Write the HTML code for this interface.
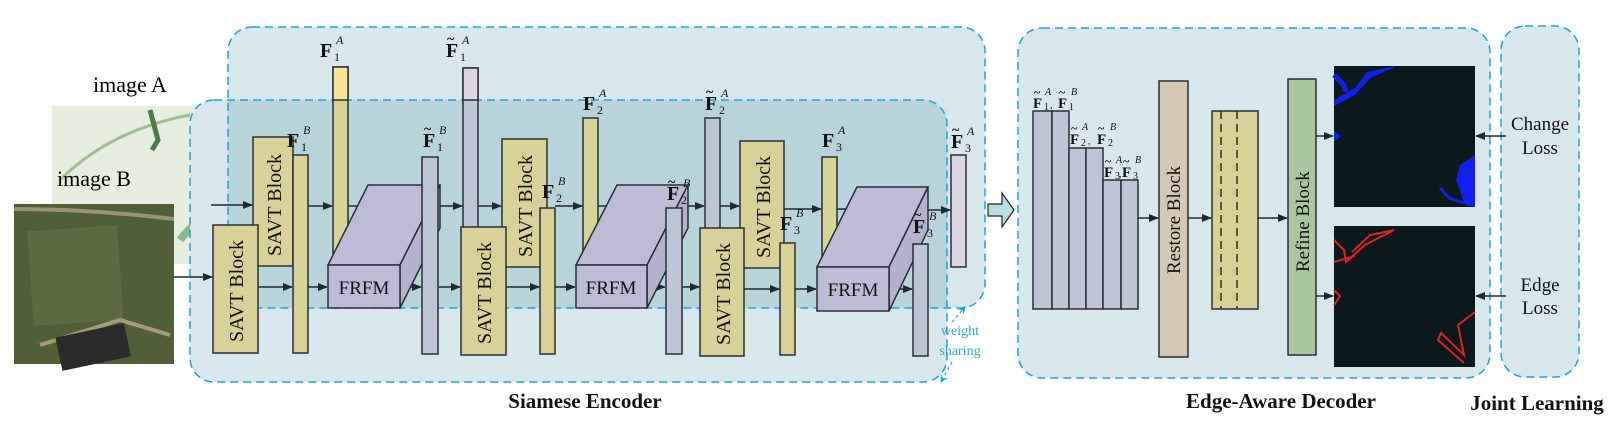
<!DOCTYPE html>
<html><head><meta charset="utf-8"><style>
html,body{margin:0;padding:0;background:#fff;}
svg{display:block;font-family:"Liberation Serif",serif;}
</style></head><body>
<svg width="1623" height="439" viewBox="0 0 1623 439" xmlns="http://www.w3.org/2000/svg">
<defs>
<marker id="ar" markerWidth="10" markerHeight="8" refX="9" refY="4" orient="auto" markerUnits="userSpaceOnUse">
<path d="M0,0 L10,4 L0,8 Z" fill="#1e2a30"/></marker>
<marker id="arb" markerWidth="8" markerHeight="8" refX="7" refY="4" orient="auto" markerUnits="userSpaceOnUse">
<path d="M0,0 L8,4 L0,8 L3,4 Z" fill="#1aa3e0"/></marker>
<clipPath id="cA"><rect x="228" y="27" width="757" height="281" rx="24"/></clipPath>
</defs>

<!-- image A -->
<rect x="52" y="106" width="159" height="158" fill="#e6eee0"/>
<path d="M60,180 Q110,130 190,115" stroke="#9fbf90" stroke-width="3" fill="none"/>
<path d="M150,110 l8,30 l-6,10" stroke="#4d7a4a" stroke-width="5" fill="none"/>
<path d="M180,240 q15,-20 30,-20" stroke="#8fb88a" stroke-width="8" fill="none"/>

<!-- encoder boxes -->
<rect x="190" y="100" width="757" height="282" rx="24" fill="#d8e7ec"/>
<rect x="228" y="27" width="757" height="281" rx="24" fill="#d8e7ec"/>
<rect x="190" y="100" width="757" height="282" rx="24" fill="#b7d4da" clip-path="url(#cA)"/>
<rect x="228" y="27" width="757" height="281" rx="24" fill="none" stroke="#1aa3e0" stroke-width="1.5" stroke-dasharray="8,5"/>
<rect x="190" y="100" width="757" height="282" rx="24" fill="none" stroke="#1aa3e0" stroke-width="1.5" stroke-dasharray="8,5"/>

<!-- image B -->
<rect x="14" y="204" width="160" height="160" fill="#4f5f36"/>
<rect x="30" y="228" width="90" height="95" fill="#5d6c3e" transform="rotate(-4 75 270)"/>
<path d="M40,345 L120,320 L170,335" stroke="#a79a78" stroke-width="4" fill="none"/>
<rect x="58" y="330" width="70" height="34" fill="#2a2c2c" transform="rotate(-12 93 346)"/>
<path d="M14,209 Q90,209 174,219" stroke="#9c9272" stroke-width="4" fill="none"/>

<text x="93" y="92" font-size="22">image A</text>
<text x="57" y="186" font-size="22">image B</text>

<g stroke="#1e2a30" stroke-width="1.5" fill="none" marker-end="url(#ar)">
<line x1="211" y1="205" x2="252" y2="205"/>
<line x1="174" y1="277" x2="212" y2="277"/>
<line x1="258" y1="287" x2="292" y2="287"/>
<line x1="308" y1="206" x2="332" y2="206"/>
<line x1="308" y1="287" x2="327" y2="287"/>
<line x1="400" y1="287" x2="421" y2="287"/>
<line x1="440" y1="206" x2="462" y2="206"/>
<line x1="438" y1="287" x2="460" y2="287"/>
<line x1="478" y1="206" x2="501" y2="206"/>
<line x1="506" y1="287" x2="539" y2="287"/>
<line x1="555" y1="206" x2="582" y2="206"/>
<line x1="555" y1="287" x2="575" y2="287"/>
<line x1="647" y1="287" x2="665" y2="287"/>
<line x1="687" y1="206" x2="704" y2="206"/>
<line x1="682" y1="287" x2="699" y2="287"/>
<line x1="720" y1="206" x2="739" y2="206"/>
<line x1="744" y1="289" x2="779" y2="289"/>
<line x1="784" y1="209" x2="821" y2="209"/>
<line x1="795" y1="289" x2="816" y2="289"/>
<line x1="889" y1="289" x2="912" y2="289"/>
<line x1="928" y1="210" x2="950" y2="210"/>
</g>
<g stroke="#1e2a30" stroke-width="1.5">
<line x1="348" y1="206" x2="440" y2="206"/>
<line x1="598" y1="206" x2="687" y2="206"/>
<line x1="837" y1="209" x2="928" y2="209"/>
</g>

<g stroke="#2a2f33" stroke-width="1.5">
<rect x="333" y="67" width="15" height="190" fill="#d8d298"/>
<rect x="333" y="67" width="15" height="33" fill="#fde39a"/>
<rect x="463" y="68" width="15" height="162" fill="#bcc4d6"/>
<rect x="463" y="68" width="15" height="32" fill="#ddd6e6"/>
<rect x="253" y="137" width="40" height="129" fill="#d8d298"/>
<rect x="213" y="225" width="45" height="128" fill="#d8d298"/>
<rect x="293" y="155" width="15" height="198" fill="#d8d298"/>
<polygon points="328,265 368,185 440,185 400,265" fill="#bdbbd6"/>
<polygon points="400,265 440,185 440,228 400,308" fill="#b3b1cd"/>
<rect x="328" y="265" width="72" height="43" fill="#bdbbd6"/>
<rect x="422" y="157" width="16" height="197" fill="#bcc4d6"/>
<rect x="583" y="118" width="15" height="140" fill="#d8d298"/>
<rect x="705" y="118" width="15" height="112" fill="#bcc4d6"/>
<rect x="502" y="139" width="45" height="128" fill="#d8d298"/>
<rect x="461" y="227" width="45" height="128" fill="#d8d298"/>
<rect x="540" y="208" width="15" height="146" fill="#d8d298"/>
<polygon points="576,265 617,185 688,185 647,265" fill="#bdbbd6"/>
<polygon points="647,265 688,185 688,228 647,308" fill="#b3b1cd"/>
<rect x="576" y="265" width="71" height="43" fill="#bdbbd6"/>
<rect x="666" y="208" width="16" height="146" fill="#bcc4d6"/>
<rect x="822" y="157" width="15" height="100" fill="#d8d298"/>
<rect x="740" y="141" width="44" height="127" fill="#d8d298"/>
<rect x="700" y="228" width="44" height="128" fill="#d8d298"/>
<rect x="780" y="243" width="15" height="112" fill="#d8d298"/>
<polygon points="817,267 857,187 928,187 889,267" fill="#bdbbd6"/>
<polygon points="889,267 928,187 928,230 889,311" fill="#b3b1cd"/>
<rect x="817" y="267" width="72" height="44" fill="#bdbbd6"/>
<rect x="913" y="244" width="15" height="112" fill="#bcc4d6"/>
<rect x="951" y="155" width="15" height="112" fill="#ddd6e6"/>
</g>

<g font-size="20" fill="#111">
<text transform="translate(243,342) rotate(-90)">SAVT Block</text>
<text transform="translate(281,256) rotate(-90)">SAVT Block</text>
<text transform="translate(491,344) rotate(-90)">SAVT Block</text>
<text transform="translate(532,257) rotate(-90)">SAVT Block</text>
<text transform="translate(730,345) rotate(-90)">SAVT Block</text>
<text transform="translate(770,258) rotate(-90)">SAVT Block</text>
<text x="364" y="294" font-size="19" text-anchor="middle">FRFM</text>
<text x="611" y="294" font-size="19" text-anchor="middle">FRFM</text>
<text x="853" y="296" font-size="19" text-anchor="middle">FRFM</text>
</g>

<g fill="#111">
<g font-weight="bold" font-size="20">
<text x="320" y="57">F</text><text x="287" y="147">F</text>
<text x="446" y="57">F</text><text x="423" y="147">F</text>
<text x="583" y="110">F</text><text x="542" y="198">F</text>
<text x="705" y="110">F</text><text x="667" y="200">F</text>
<text x="822" y="147">F</text><text x="780" y="230">F</text>
<text x="951" y="148">F</text><text x="913" y="233">F</text>
</g>
<g font-size="14" font-weight="bold">
<text x="447" y="43">~</text><text x="424" y="133">~</text>
<text x="706" y="96">~</text><text x="668" y="186">~</text>
<text x="952" y="134">~</text><text x="914" y="219">~</text>
</g>
<g font-size="12">
<text x="334" y="61">1</text><text x="301" y="151">1</text>
<text x="460" y="61">1</text><text x="437" y="151">1</text>
<text x="597" y="114">2</text><text x="556" y="202">2</text>
<text x="719" y="114">2</text><text x="681" y="204">2</text>
<text x="836" y="151">3</text><text x="794" y="234">3</text>
<text x="965" y="152">3</text><text x="927" y="237">3</text>
</g>
<g font-size="12" font-style="italic">
<text x="336" y="44">A</text><text x="303" y="134">B</text>
<text x="462" y="44">A</text><text x="439" y="134">B</text>
<text x="599" y="97">A</text><text x="558" y="185">B</text>
<text x="721" y="97">A</text><text x="683" y="187">B</text>
<text x="838" y="134">A</text><text x="796" y="217">B</text>
<text x="967" y="135">A</text><text x="929" y="220">B</text>
</g>
</g>

<text x="960" y="335" font-size="14" fill="#29a8e0" text-anchor="middle">weight</text>
<text x="960" y="355" font-size="14" fill="#29a8e0" text-anchor="middle">sharing</text>
<line x1="952" y1="322" x2="965" y2="307" stroke="#1aa3e0" stroke-width="1.2" stroke-dasharray="3,3" marker-end="url(#arb)"/>
<line x1="952" y1="362" x2="941" y2="382" stroke="#1aa3e0" stroke-width="1.2" stroke-dasharray="3,3" marker-end="url(#arb)"/>

<polygon points="988,204 1002,204 1002,193 1014,210 1002,227 1002,216 988,216" fill="#b7dde6" stroke="#222" stroke-width="1.2"/>

<!-- decoder -->
<rect x="1018" y="28" width="472" height="350" rx="24" fill="#d8e7ec" stroke="#1aa3e0" stroke-width="1.5" stroke-dasharray="8,5"/>
<rect x="1501" y="26" width="78" height="351" rx="24" fill="#d8e7ec" stroke="#1aa3e0" stroke-width="1.5" stroke-dasharray="8,5"/>

<g stroke="#2a2f33" stroke-width="1.5" fill="#bcc4d6">
<rect x="1033" y="111" width="19" height="198"/>
<rect x="1052" y="111" width="17" height="198"/>
<rect x="1069" y="148" width="17" height="161"/>
<rect x="1086" y="148" width="17" height="161"/>
<rect x="1103" y="180" width="18" height="129"/>
<rect x="1121" y="180" width="17" height="129"/>
<rect x="1159" y="81" width="29" height="276" fill="#d4c8b4"/>
<rect x="1212" y="111" width="46" height="198" fill="#d8d298"/>
<rect x="1288" y="79" width="28" height="276" fill="#a9c79f"/>
</g>
<g stroke="#2a2f33" stroke-width="1.5" stroke-dasharray="8,5">
<line x1="1221" y1="111" x2="1221" y2="309"/>
<line x1="1237" y1="111" x2="1237" y2="309"/>
</g>
<g fill="#111">
<g font-weight="bold" font-size="15">
<text x="1033" y="108">F</text><text x="1058" y="108">F</text>
<text x="1070" y="144">F</text><text x="1097" y="144">F</text>
<text x="1104" y="177">F</text><text x="1122" y="177">F</text>
</g>
<g font-size="12" font-weight="bold">
<text x="1034" y="96">~</text><text x="1059" y="96">~</text>
<text x="1071" y="132">~</text><text x="1098" y="132">~</text>
<text x="1105" y="165">~</text><text x="1123" y="165">~</text>
</g>
<g font-size="10">
<text x="1044" y="110">1</text><text x="1069" y="110">1</text><text x="1050" y="108">,</text>
<text x="1081" y="146">2</text><text x="1108" y="146">2</text><text x="1088" y="144">,</text>
<text x="1115" y="179">3</text><text x="1133" y="179">3</text><text x="1119" y="177">,</text>
</g>
<g font-size="10" font-style="italic">
<text x="1045" y="95">A</text><text x="1071" y="95">B</text>
<text x="1082" y="130">A</text><text x="1110" y="130">B</text>
<text x="1116" y="163">A</text><text x="1135" y="163">B</text>
</g>
</g>
<g font-size="19" fill="#111">
<text transform="translate(1180,274) rotate(-90)">Restore Block</text>
<text transform="translate(1309,272) rotate(-90)">Refine Block</text>
</g>
<g stroke="#1e2a30" stroke-width="1.5" marker-end="url(#ar)">
<line x1="1138" y1="218" x2="1158" y2="218"/>
<line x1="1188" y1="218" x2="1211" y2="218"/>
<line x1="1258" y1="218" x2="1287" y2="218"/>
<line x1="1316" y1="136" x2="1333" y2="136"/>
<line x1="1316" y1="296" x2="1333" y2="296"/>
<line x1="1506" y1="136" x2="1476" y2="136"/>
<line x1="1506" y1="296" x2="1476" y2="296"/>
</g>
<rect x="1334" y="66" width="141" height="141" fill="#0b181c"/>
<path d="M1334,100 L1355,88 L1367,72 L1396,66 L1393,68 L1370,78 L1355,95 L1334,106 Z" fill="#1020f0"/>
<path d="M1334,75 L1344,85 L1346,92" stroke="#1020f0" stroke-width="5" fill="none"/>
<path d="M1334,131 L1341,136 L1334,142 Z" fill="#1020f0"/>
<path d="M1475,155 L1460,165 L1456,180 L1465,205 L1475,207 Z" fill="#1020f0"/>
<path d="M1440,188 L1449,198 L1464,203" stroke="#1020f0" stroke-width="3" fill="none"/>
<rect x="1334" y="226" width="141" height="141" fill="#0b181c"/>
<path d="M1334,240 L1344,250 L1346,262 L1365,245 L1394,230 L1370,235 L1352,252 M1334,262 L1355,256" stroke="#e02020" stroke-width="2" fill="none"/>
<path d="M1334,290 L1340,296 L1334,305" stroke="#e02020" stroke-width="2" fill="none"/>
<path d="M1475,312 L1458,325 L1464,355 L1441,333 L1438,340 L1464,363" stroke="#e02020" stroke-width="2" fill="none"/>

<g font-size="19" fill="#111" text-anchor="middle">
<text x="1540" y="130">Change</text>
<text x="1540" y="154">Loss</text>
<text x="1540" y="291">Edge</text>
<text x="1540" y="314">Loss</text>
</g>
<g font-size="21" font-weight="bold" fill="#111" text-anchor="middle">
<text x="585" y="408">Siamese Encoder</text>
<text x="1281" y="408">Edge-Aware Decoder</text>
<text x="1537" y="410">Joint Learning</text>
</g>
</svg>
</body></html>
